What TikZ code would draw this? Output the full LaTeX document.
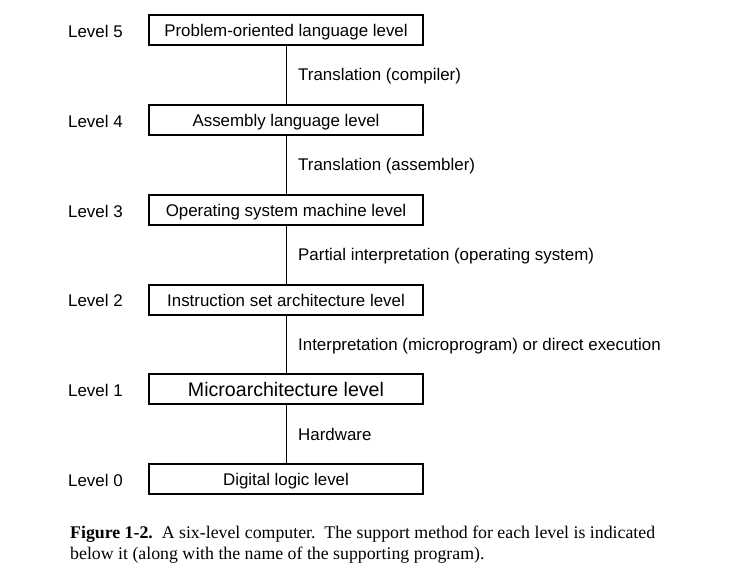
\documentclass[tikz,border=0pt]{standalone}
\usepackage{fontspec}
\setmainfont{Liberation Sans}
\newfontfamily\capfont{Liberation Serif}
\usepackage{tikz}
\usetikzlibrary{positioning}

\tikzset{
  levelbox/.style={draw, line width=1.1pt, minimum width=274pt, minimum height=30pt,
    inner sep=0pt, text height=12.2pt, text depth=0pt, font=\fontsize{16.9}{19}\selectfont},
  lvl/.style={anchor=west, inner sep=0pt, text height=12.2pt, text depth=0pt,
    font=\fontsize{16.9}{19}\selectfont},
  how/.style={anchor=west, inner sep=0pt, text height=12.2pt, text depth=0pt,
    font=\fontsize{16.9}{19}\selectfont},
  support/.style={line width=0.9pt}
}

\begin{document}
\begin{tikzpicture}[x=1pt,y=-1pt]
                \useasboundingbox (0,0) rectangle (752,575);
                % the six levels
                \node[levelbox] (l5) at (286,30) {Problem-oriented language level};
                \node[levelbox] (l4) at (286,120) {Assembly language level};
                \node[levelbox] (l3) at (286,210) {Operating system machine level};
                \node[levelbox] (l2) at (286,300) {Instruction set architecture level};
                \node[levelbox, text height=14pt, font=\fontsize{19.6}{22}\selectfont] (l1) at (286,389) {Microarchitecture level};
                \node[levelbox] (l0) at (286,479) {Digital logic level};
                \node[lvl] (n5) at (68,31) {Level 5};
                \node[lvl] (n4) at (68,121) {Level 4};
                \node[lvl] (n3) at (68,211) {Level 3};
                \node[lvl] (n2) at (68,300) {Level 2};
                \node[lvl] (n1) at (68,390) {Level 1};
                \node[lvl] (n0) at (68,480) {Level 0};
                % how each level is supported
                \draw[support] (l5) -- (l4);
                \draw[support] (l4) -- (l3);
                \draw[support] (l3) -- (l2);
                \draw[support] (l2) -- (l1);
                \draw[support] (l1) -- (l0);
                \node[how] (h5) at (298,74) {Translation (compiler)};
                \node[how] (h4) at (298,164) {Translation (assembler)};
                \node[how] (h3) at (298,254) {Partial interpretation (operating system)};
                \node[how] (h2) at (298,344) {Interpretation (microprogram) or direct execution};
                \node[how] (h1) at (298,434) {Hardware};
                % caption
                \node[anchor=base west, inner sep=0pt, align=left,
                  font=\capfont\fontsize{17.8}{21}\selectfont] (cap) at (70,559)
                  {\textbf{Figure 1-2.}\ \ A six-level computer.\ \ The support method for each level is indicated\\
                   below it (along with the name of the supporting program).};
            \end{tikzpicture}
\end{document}
